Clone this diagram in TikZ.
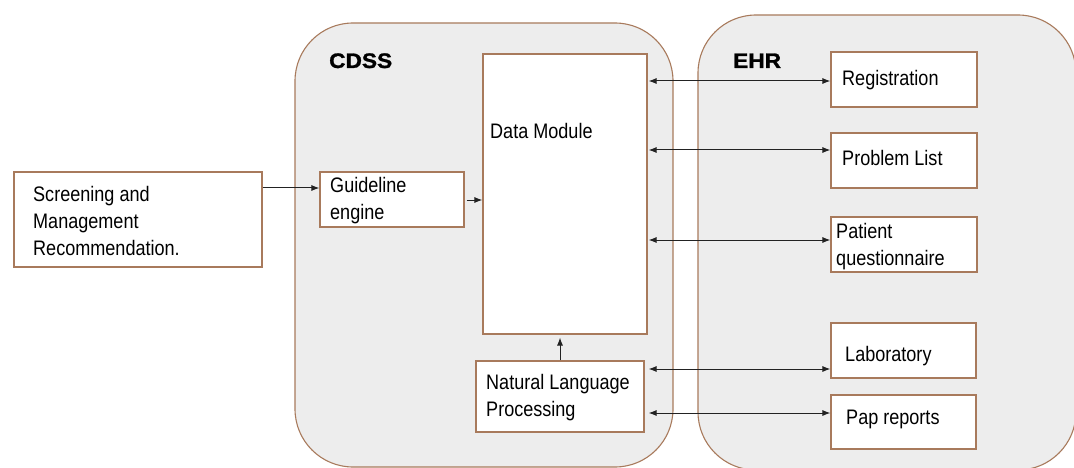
\documentclass[tikz,border=0pt]{standalone}
\usepackage{fontspec}
\setmainfont[FakeStretch=0.86]{Liberation Sans}
\newfontfamily\headfont[FakeStretch=1.08,BoldFeatures={FakeBold=1.3}]{Liberation Sans}
\usetikzlibrary{arrows.meta}

\definecolor{rim}{HTML}{A87A5C}
\definecolor{panel}{HTML}{EDEDED}
\definecolor{wire}{HTML}{222222}

\tikzset{
  panelbox/.style={draw=rim, fill=panel, line width=1.1pt, rounded corners=58pt},
  unit/.style={draw=rim, fill=white, line width=1.1pt, inner sep=0pt, rectangle},
  txt/.style={inner sep=0pt, anchor=base west, align=left,
              font=\fontsize{21}{27}\selectfont, text=black},
  head/.style={inner sep=0pt, anchor=base west,
               font=\headfont\bfseries\fontsize{21}{24}\selectfont},
  flow/.style={draw=wire, line width=1pt, -{Latex[length=8pt,width=6pt]}},
  link/.style={draw=wire, line width=1pt,
               {Latex[length=8pt,width=6pt]}-{Latex[length=8pt,width=6pt]}},
}

\begin{document}
\begin{tikzpicture}[x={(1pt,0)}, y={(0,-1pt)}]
  \useasboundingbox (0,0) rectangle (1074,468);

  % the two subsystems
  \path[panelbox] (295,23) rectangle (673,467);
  \path[panelbox] (698,15) rectangle (1076,470);
  \node[head] (cdss) at (329,68) {CDSS};
  \node[head] (ehr)  at (733,68) {EHR};

  % blocks
  \node[unit, minimum width=248, minimum height=95] (scr) at (138,219.5) {};
  \node[unit, minimum width=144, minimum height=55] (ge)  at (392,199.5) {};
  \node[unit, minimum width=164, minimum height=280] (dm) at (565,194) {};
  \node[unit, minimum width=168, minimum height=71] (nlp) at (560,396.5) {};

  \node[unit, minimum width=146, minimum height=55] (reg) at (904,79.5) {};
  \node[unit, minimum width=146, minimum height=55] (pl)  at (904,160.5) {};
  \node[unit, minimum width=146, minimum height=55] (pq)  at (904,244.5) {};
  \node[unit, minimum width=145, minimum height=55] (lab) at (903.5,350.5) {};
  \node[unit, minimum width=145, minimum height=54] (pap) at (903.5,422) {};

  % labels (multi-line ones are placed by their last baseline)
  \node[txt] (scrT) at (33,255) {Screening and\\Management\\Recommendation.};
  \node[txt] (geT)  at (330,219) {Guideline\\engine};
  \node[txt] (dmT)  at (490,139) {Data Module};
  \node[txt] (nlpT) at (486,416) {Natural Language\\Processing};
  \node[txt] (regT) at (842,86)  {Registration};
  \node[txt] (plT)  at (842,166) {Problem List};
  \node[txt] (pqT)  at (836,265) {Patient\\questionnaire};
  \node[txt] (labT) at (845,361) {Laboratory};
  \node[txt] (papT) at (846,424) {Pap reports};

  % one-way flows
  \draw[flow] (scr.east |- 0,188) -- (ge.west |- 0,188);
  \draw[flow, shorten <=2pt] (ge.east |- 0,200) -- (dm.west |- 0,200);
  \draw[flow, shorten >=3pt] (nlp.north) -- (nlp.north |- dm.south);

  % exchanges with the record system
  \draw[link, shorten <=1pt] (dm.east |- 0,81)  -- (reg.west |- 0,81);
  \draw[link, shorten <=1pt] (dm.east |- 0,150) -- (pl.west |- 0,150);
  \draw[link, shorten <=1pt] (dm.east |- 0,240) -- (pq.west |- 0,240);
  \draw[link, shorten <=4pt] (nlp.east |- 0,369) -- (lab.west |- 0,369);
  \draw[link, shorten <=4pt] (nlp.east |- 0,413) -- (pap.west |- 0,413);
\end{tikzpicture}
\end{document}
